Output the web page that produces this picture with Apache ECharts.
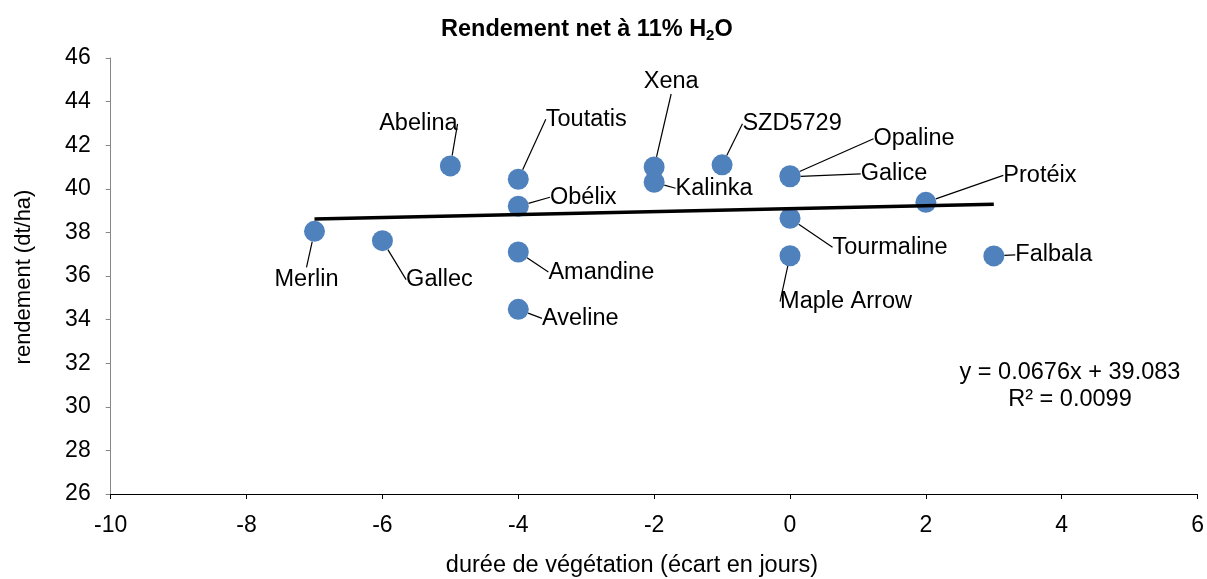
<!DOCTYPE html>
<html>
<head>
<meta charset="utf-8">
<script src="https://cdn.jsdelivr.net/npm/echarts@6/dist/echarts.min.js"></script>
<style>
html,body{margin:0;padding:0;background:#fff;}
#c{width:1207px;height:579px;}
</style>
</head>
<body>
<div id="c"></div>
<script>
// ---- data ----
const varieties = ['Merlin','Gallec','Abelina','Toutatis','Obélix','Amandine','Aveline','Xena','Kalinka','SZD5729','Opaline','Galice','Tourmaline','Maple Arrow','Protéix','Falbala'];
const duration  = [-7, -6, -5, -4, -4, -4, -4, -2, -2, -1, 0, 0, 0, 0, 2, 3];
const yieldVals = [38.05, 37.62, 41.05, 40.44, 39.2, 37.1, 34.47, 41.0, 40.3, 41.1, 40.6, 40.55, 38.65, 36.93, 39.38, 36.92];
const trendSlope = 0.0676;
const trendIntercept = 39.083;
const trendR2 = 0.0099;
const trendRange = [-7, 3];
const xTicks = [-10, -8, -6, -4, -2, 0, 2, 4, 6];
const yTicks = [26, 28, 30, 32, 34, 36, 38, 40, 42, 44, 46];

// ---- layout (label offsets in pixels relative to each point) ----
const labelOffsets = [
  [-8, 48], [57, 39], [-32, -42], [68, -60], [65, -9], [83, 20], [62, 9],
  [17, -85], [60, 6], [70, -41], [124, -37], [104, -3], [100, 29], [56, 46],
  [114, -27], [60, -1]
];

const FONT = 'Liberation Sans, Arial, sans-serif';
const chart = echarts.init(document.getElementById('c'));

const scatterData = varieties.map((n, i) => ({name: n, value: [duration[i], yieldVals[i]]}));
const trendData = trendRange.map(x => [x, trendIntercept + trendSlope * x]);

chart.setOption({
  animation: false,
  backgroundColor: '#fff',
  title: {
    text: '{a|Rendement net à 11% H}{s|2}{a|O}',
    left: 436, top: 11,
    textStyle: {
      rich: {
        a: {fontFamily: FONT, fontSize: 23.5, fontWeight: 'bold', color: '#000'},
        s: {fontFamily: FONT, fontSize: 15, fontWeight: 'bold', color: '#000', padding: [12, 0, 0, 0]}
      }
    }
  },
  grid: {left: 110.7, right: 9.3, top: 58, bottom: 85, containLabel: false},
  xAxis: {
    type: 'value', min: xTicks[0], max: xTicks[xTicks.length - 1], interval: 2,
    splitLine: {show: false},
    axisLine: {onZero: false, lineStyle: {color: '#000', width: 1}},
    axisTick: {show: true, inside: false, length: 5, lineStyle: {color: '#000'}},
    axisLabel: {fontFamily: FONT, fontSize: 23, color: '#000', margin: 20}
  },
  yAxis: {
    type: 'value', min: yTicks[0], max: yTicks[yTicks.length - 1], interval: 2,
    splitLine: {show: false},
    axisLine: {show: true, onZero: false, lineStyle: {color: '#868686', width: 1}},
    axisTick: {show: true, inside: false, length: 5, lineStyle: {color: '#868686'}},
    axisLabel: {fontFamily: FONT, fontSize: 23, color: '#000', margin: 20}
  },
  graphic: [
    {type: 'text', x: 632, y: 566, style: {text: 'durée de végétation (écart en jours)', font: '23.5px ' + FONT, fill: '#000', align: 'center', verticalAlign: 'middle'}},
    {type: 'text', x: 24, y: 277, rotation: Math.PI / 2, style: {text: 'rendement (dt/ha)', font: '22px ' + FONT, fill: '#000', align: 'center', verticalAlign: 'middle'}},
    {type: 'text', x: 1070, y: 386.5, z: 100, style: {text: 'y = ' + trendSlope + 'x + ' + trendIntercept.toFixed(3) + '\nR² = ' + trendR2, font: '23.5px ' + FONT, fill: '#000', align: 'center', verticalAlign: 'middle', lineHeight: 27}}
  ],
  series: [
    {
      type: 'scatter',
      data: scatterData,
      symbol: 'circle',
      symbolSize: 21,
      itemStyle: {color: '#4F81BD', opacity: 1},
      z: 2,
      label: {
        show: true, position: 'inside',
        formatter: p => p.name,
        fontFamily: FONT, fontSize: 23.5, color: '#000'
      },
      labelLine: {show: true, lineStyle: {color: '#000', width: 1.2}},
      labelLayout: p => ({dx: labelOffsets[p.dataIndex][0], dy: labelOffsets[p.dataIndex][1]}),
      emphasis: {disabled: true}
    },
    {
      type: 'line',
      data: trendData,
      symbol: 'none',
      z: 3,
      lineStyle: {color: '#000', width: 3.5},
      emphasis: {disabled: true}
    }
  ]
});
</script>
</body>
</html>
